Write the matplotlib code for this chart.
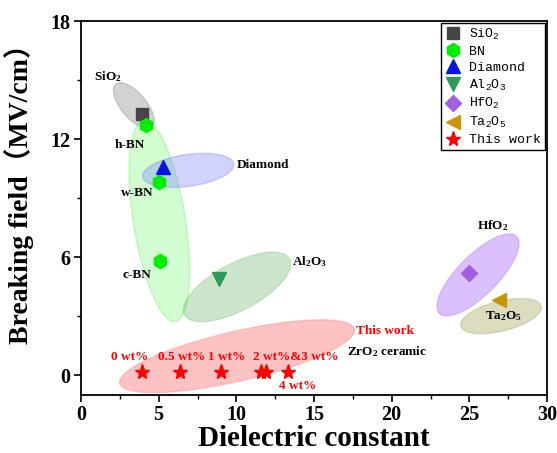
import matplotlib
matplotlib.use("Agg")
import matplotlib.pyplot as plt
from matplotlib.patches import Ellipse
from matplotlib.transforms import ScaledTranslation
from matplotlib.lines import Line2D
from matplotlib.ticker import MultipleLocator

plt.rcParams['font.family'] = ['Liberation Serif', 'Noto Sans CJK SC']
plt.rcParams['mathtext.default'] = 'regular'

# ---- data ----
materials = ['SiO$_2$', 'BN', 'Diamond', 'Al$_2$O$_3$', 'HfO$_2$', 'Ta$_2$O$_5$', 'This work']
sio2_x, sio2_y = [3.9], [13.3]
bn_x, bn_y = [4.2, 5.0, 5.1], [12.7, 9.8, 5.8]
bn_names = ['h-BN', 'w-BN', 'c-BN']
diamond_x, diamond_y = [5.3], [10.6]
al2o3_x, al2o3_y = [8.9], [4.9]
hfo2_x, hfo2_y = [25.0], [5.2]
ta2o5_x, ta2o5_y = [26.9], [3.85]
work_x = [3.9, 6.4, 9.0, 11.6, 11.9, 13.3]
work_y = [0.15, 0.15, 0.15, 0.15, 0.15, 0.15]
work_labels = ['0 wt%', '0.5 wt%', '1 wt%', '2 wt%&3 wt%', '4 wt%']

# region ellipses: center (data), width/height (pixels), angle (deg), face, edge, alpha
ell_cx = [3.4, 5.05, 6.9, 10.05, 25.56, 27.04, 10.05]
ell_cy = [13.7, 7.85, 10.41, 4.49, 5.10, 3.01, 0.97]
ell_w = [56, 204, 92, 119, 109, 83, 241]
ell_h = [25, 52, 32, 47, 40, 30, 50]
ell_ang = [-50, 99, 8, 28, 45, 14, 13]
ell_face = ['#808080', '#7cfc7c', '#8080ff', '#5aaa5a', '#a860ff', '#a8a860', '#ff5050']
ell_edge = ['#808080', '#66ee66', '#8080ff', '#66bb66', '#b080ff', '#b0b080', '#ff8080']
ell_alpha = [0.35, 0.35, 0.35, 0.3, 0.4, 0.4, 0.35]

fig = plt.figure(figsize=(5.57, 4.53), dpi=100)
ax = fig.add_axes([81/557, 1-395/453, (547-81)/557, (395-21)/453])
ax.set_xlim(0, 30)
ax.set_ylim(-1, 18)

for cx, cy, w, h, a, fc, ec, al in zip(ell_cx, ell_cy, ell_w, ell_h, ell_ang, ell_face, ell_edge, ell_alpha):
    tr = fig.dpi_scale_trans + ScaledTranslation(cx, cy, ax.transData)
    e = Ellipse((0, 0), w/100, h/100, angle=a, transform=tr,
                facecolor=fc, edgecolor=ec, alpha=al, lw=1.0)
    ax.add_patch(e)

ms = 9
ax.plot(sio2_x, sio2_y, 's', color='#454545', ms=ms-1, zorder=5)
ax.plot(bn_x, bn_y, 'h', color='#00ee00', ms=ms+1, zorder=5)
ax.plot(diamond_x, diamond_y, '^', color='#0a14dc', ms=ms+1, zorder=5)
ax.plot(al2o3_x, al2o3_y, 'v', color='#2e9a5a', ms=ms+1, zorder=5)
ax.plot(hfo2_x, hfo2_y, 'D', color='#a060e0', ms=ms-1, zorder=5)
ax.plot(ta2o5_x, ta2o5_y, '<', color='#c8950a', ms=ms+1, zorder=5)
ax.plot(work_x, work_y, '*', color='#ff0000', ms=ms+2, ls='none', zorder=5)

tf = dict(fontweight='bold', fontsize=9.5)
ax.text(1.7, 15.2, 'SiO$_2$', ha='center', va='center', **tf)
ax.text(3.15, 11.7, bn_names[0], ha='center', va='center', **tf)
ax.text(3.6, 9.25, bn_names[1], ha='center', va='center', **tf)
ax.text(3.6, 5.1, bn_names[2], ha='center', va='center', **tf)
ax.text(10.0, 10.7, 'Diamond', ha='left', va='center', **tf)
ax.text(13.6, 5.8, 'Al$_2$O$_3$', ha='left', va='center', **tf)
ax.text(26.5, 7.6, 'HfO$_2$', ha='center', va='center', **tf)
ax.text(27.2, 3.0, 'Ta$_2$O$_5$', ha='center', va='center', **tf)
ax.text(19.6, 2.25, 'This work', ha='center', va='center', color='#ff0000', **tf)
ax.text(17.1, 1.2, 'ZrO$_2$ ceramic', ha='left', va='center', **tf)
lab_x = [3.1, 6.45, 9.4, 13.85, 13.97]
lab_y = [0.95, 0.95, 0.95, 0.95, -0.55]
for lx, ly, t in zip(lab_x, lab_y, work_labels):
    ax.text(lx, ly, t, ha='center', va='center', color='#ff0000', **tf)

ax.xaxis.set_major_locator(MultipleLocator(5))
ax.xaxis.set_minor_locator(MultipleLocator(2.5))
ax.yaxis.set_major_locator(MultipleLocator(6))
ax.yaxis.set_minor_locator(MultipleLocator(3))
ax.tick_params(which='major', length=5, width=1.2, labelsize=14.5, pad=2.5)
ax.tick_params(which='minor', length=3, width=1.0)
for lbl in ax.get_xticklabels() + ax.get_yticklabels():
    lbl.set_fontweight('bold')
for s in ax.spines.values():
    s.set_linewidth(1.3)

ax.set_xlabel('Dielectric constant', fontsize=21, fontweight='bold', labelpad=0)
ax.set_ylabel('Breaking field（MV/cm）', fontsize=20, fontweight='bold')
ax.yaxis.set_label_coords(-0.101, 0.555)

handles = [
    Line2D([], [], marker='s', color='#454545', ls='none', ms=8),
    Line2D([], [], marker='h', color='#00ee00', ls='none', ms=10),
    Line2D([], [], marker='^', color='#0a14dc', ls='none', ms=10),
    Line2D([], [], marker='v', color='#2e9a5a', ls='none', ms=10),
    Line2D([], [], marker='D', color='#a060e0', ls='none', ms=8),
    Line2D([], [], marker='<', color='#c8950a', ls='none', ms=10),
    Line2D([], [], marker='*', color='#ff0000', ls='none', ms=11),
]
leg = ax.legend(handles, materials, loc='upper right', bbox_to_anchor=(1.0, 1.0),
                prop={'family': 'Liberation Mono', 'size': 9.5}, frameon=True, fancybox=False,
                edgecolor='black', framealpha=1, handlelength=1.2, handletextpad=0.6,
                labelspacing=0.28, borderpad=0.3, borderaxespad=0.15)
leg.get_frame().set_linewidth(1.0)

fig.savefig('out.png', dpi=100)
